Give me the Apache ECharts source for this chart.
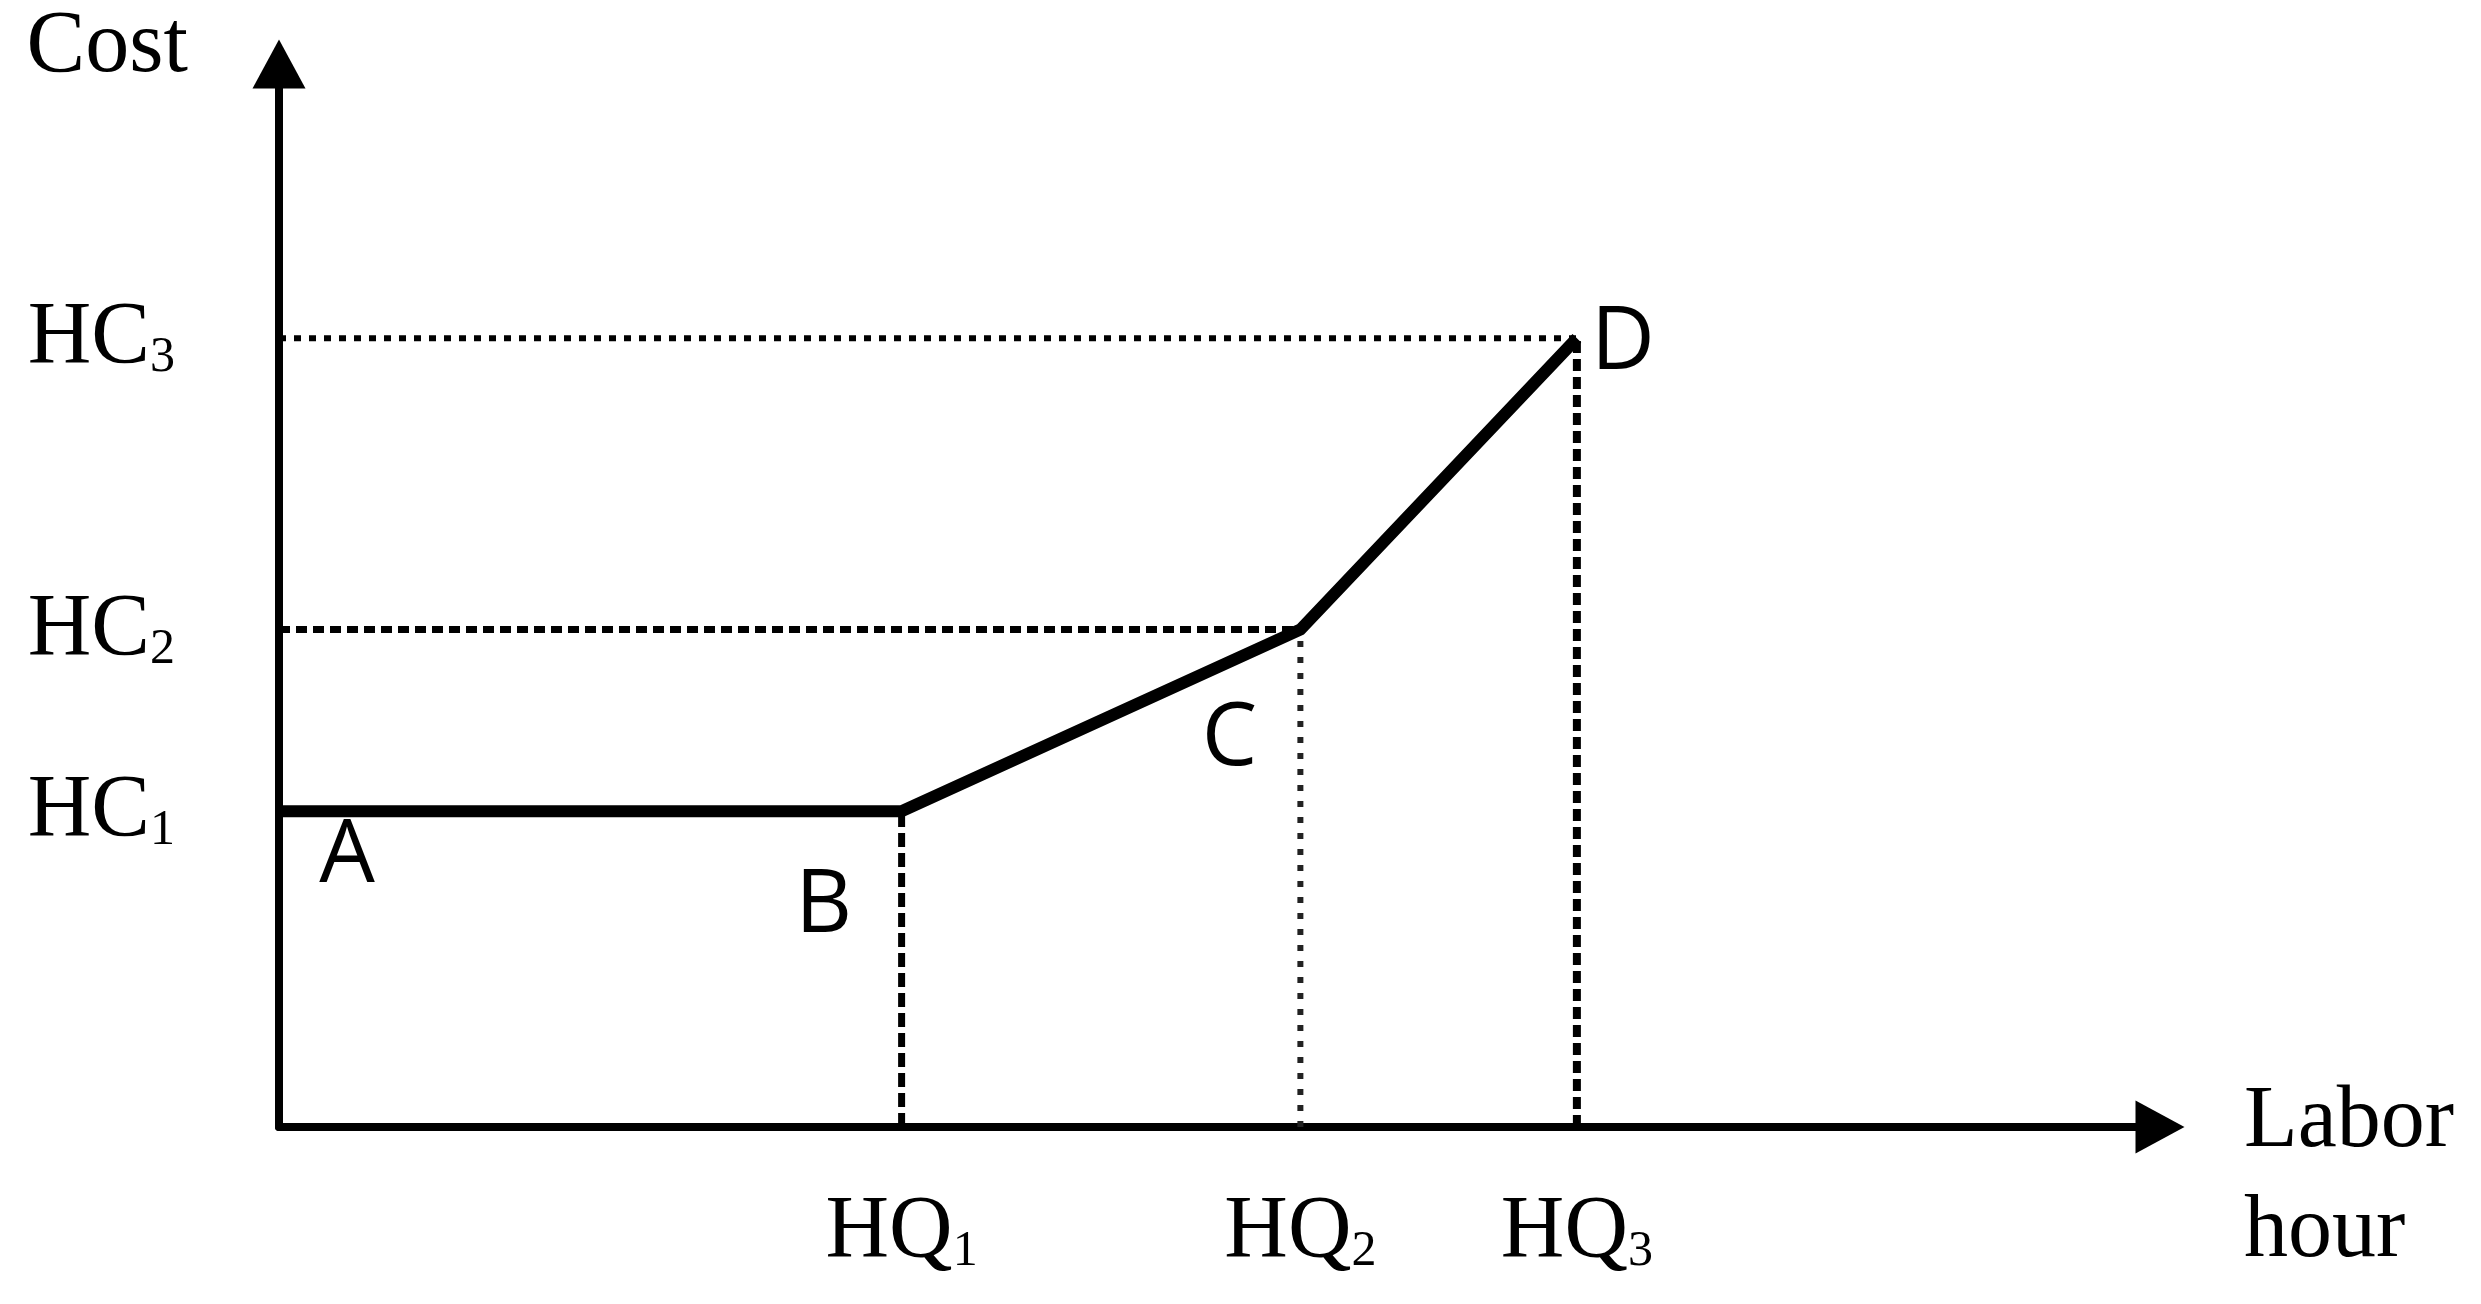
<!DOCTYPE html>
<html>
<head>
    <meta charset="utf-8" />
    <title>Cost - Labor hour</title>
    <script src="https://cdn.jsdelivr.net/npm/echarts@6/dist/echarts.min.js"></script>
    <style type="text/css">
        html,
        body {
            width: 100%;
            height: 100%;
            margin: 0;
            background: #fff;
        }

        #main {
            width: 2481px;
            height: 1304px;
        }
    </style>
</head>
<body>
    <div id="main"></div>
    <script>
        // break points on the axes (axis units 0..100)
        var hqValues = [33.1, 54.3, 69.0];
        var hcValues = [29.7, 46.8, 74.2];
        var hqNames = ['HQ1', 'HQ2', 'HQ3'];
        var hcNames = ['HC1', 'HC2', 'HC3'];
        var pointNames = ['A', 'B', 'C', 'D'];
        var curveX = [0, hqValues[0], hqValues[1], hqValues[2]];
        var curveY = [hcValues[0], hcValues[0], hcValues[1], hcValues[2]];

        // label nudges (px) for A..D
        var pointLabelOffset = [[68, 46], [-78, 96], [-71, 110], [46, 6]];

        var serif = "'Liberation Serif', 'DejaVu Serif', serif";
        var sans = "'Open Sans', 'Liberation Sans', sans-serif";

        var subRich = {
            m: { fontFamily: serif, fontSize: 88, lineHeight: 88, color: '#000', verticalAlign: 'bottom' },
            s: { fontFamily: serif, fontSize: 50, lineHeight: 90, color: '#000', verticalAlign: 'bottom' }
        };

        function subLabel(names, values) {
            return function (value) {
                var best = 0;
                for (var i = 1; i < values.length; i++) {
                    if (Math.abs(values[i] - value) < Math.abs(values[best] - value)) best = i;
                }
                var n = names[best];
                return '{m|' + n.slice(0, -1) + '}{s|' + n.slice(-1) + '}';
            };
        }

        function pair(x1, y1, x2, y2) {
            return [[x1, y1], [x2, y2]];
        }

        function guide(data, dash, width, color) {
            return {
                type: 'line',
                data: data,
                symbol: 'none',
                silent: true,
                z: 2,
                lineStyle: { color: color || '#000', width: width, type: dash }
            };
        }

        var myChart = echarts.init(document.getElementById('main'));

        var option = {
            animation: false,
            backgroundColor: '#fff',
            grid: {
                left: 279,
                right: 321,
                top: 64,
                bottom: 177,
                containLabel: false,
                outerBoundsMode: 'none'
            },
            xAxis: {
                type: 'value',
                min: 0,
                max: 100,
                // uneven line heights push the two lines below the axis line
                name: '{a|Labor}\n{b|hour}',
                nameLocation: 'end',
                nameGap: 84,
                nameMoveOverlap: false,
                nameTextStyle: {
                    align: 'left',
                    verticalAlign: 'middle',
                    rich: {
                        a: { fontFamily: serif, fontSize: 88, lineHeight: 212, color: '#000' },
                        b: { fontFamily: serif, fontSize: 88, lineHeight: 8, color: '#000' }
                    }
                },
                axisLine: {
                    show: true,
                    symbol: ['none', 'triangle'],
                    symbolSize: [53, 49],
                    lineStyle: { color: '#000', width: 8 }
                },
                axisTick: { show: false },
                splitLine: { show: false },
                axisLabel: {
                    customValues: hqValues,
                    margin: 60,
                    formatter: subLabel(hqNames, hqValues),
                    rich: subRich
                }
            },
            yAxis: {
                type: 'value',
                min: 0,
                max: 100,
                name: 'Cost',
                nameLocation: 'end',
                nameGap: 16,
                nameMoveOverlap: false,
                nameTextStyle: {
                    fontFamily: serif,
                    fontSize: 88,
                    lineHeight: 88,
                    color: '#000',
                    align: 'right',
                    verticalAlign: 'middle',
                    padding: [0, 91, 0, 0]
                },
                axisLine: {
                    show: true,
                    symbol: ['none', 'triangle'],
                    symbolSize: [53, 49],
                    lineStyle: { color: '#000', width: 8 }
                },
                axisTick: { show: false },
                splitLine: { show: false },
                axisLabel: {
                    customValues: hcValues,
                    margin: 104,
                    formatter: subLabel(hcNames, hcValues),
                    rich: subRich
                }
            },
            series: [
                guide(pair(0, hcValues[2], hqValues[2], hcValues[2]), [7, 8], 6),
                guide(pair(0, hcValues[1], hqValues[1], hcValues[1]), [11, 6], 7),
                guide(pair(hqValues[0], 0, hqValues[0], hcValues[0]), [14, 6], 7),
                guide(pair(hqValues[1], 0, hqValues[1], hcValues[1]), [6, 10], 6, '#222'),
                guide(pair(hqValues[2], 0, hqValues[2], hcValues[2]), [12, 6], 8),
                {
                    type: 'line',
                    data: curveX.map(function (x, i) { return [x, curveY[i]]; }),
                    symbol: 'none',
                    z: 5,
                    lineStyle: { color: '#000', width: 12, join: 'miter' }
                },
                {
                    type: 'scatter',
                    symbolSize: 0,
                    z: 6,
                    itemStyle: { opacity: 1 },
                    data: pointNames.map(function (n, i) {
                        return {
                            value: [curveX[i], curveY[i]],
                            name: n,
                            label: { offset: pointLabelOffset[i] }
                        };
                    }),
                    label: {
                        show: true,
                        position: 'inside',
                        formatter: '{b}',
                        fontFamily: sans,
                        fontSize: 88,
                        color: '#000',
                        opacity: 1,
                        textBorderWidth: 0
                    }
                }
            ]
        };

        myChart.setOption(option);
    </script>
</body>
</html>
